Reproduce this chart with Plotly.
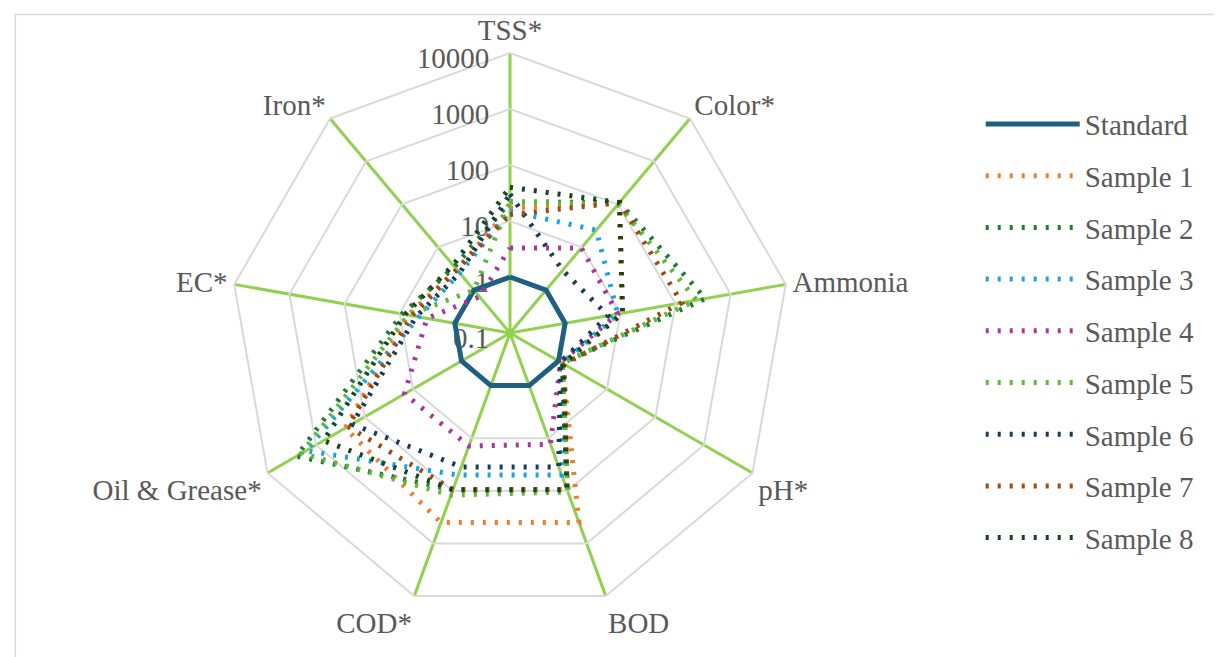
import plotly.graph_objects as go

categories = ["TSS*", "Color*", "Ammonia", "pH*", "BOD", "COD*", "Oil & Grease*", "EC*", "Iron*"]
series_names = ["Standard", "Sample 1", "Sample 2", "Sample 3", "Sample 4",
                "Sample 5", "Sample 6", "Sample 7", "Sample 8"]

standard = [1, 1, 1, 1, 1, 1, 1, 1, 1]
sample1 = [17, 110, 11, 1.2, 400, 400, 250, 7, 3.0]
sample2 = [22, 110, 350, 1.2, 95, 95, 2500, 9, 3.5]
sample3 = [15, 25, 9, 1.2, 50, 50, 1600, 4.5, 2.5]
sample4 = [3.3, 9.6, 9, 1.1, 13, 14, 15, 3.2, 0.7]
sample5 = [22, 100, 240, 1.2, 105, 120, 2000, 7, 1.0]
sample6 = [30, 2.9, 6, 1.1, 35, 35, 180, 5, 2.5]
sample7 = [13, 110, 130, 1.3, 95, 95, 220, 6, 3.0]
sample8 = [40, 110, 11, 1.25, 95, 95, 700, 8, 3.8]

tick_vals = [0.1, 1, 10, 100, 1000, 10000]
tick_text = ["0.1", "1", "10", "100", "1000", "10000"]

colors = ["#1F5F82", "#ED7D31", "#227A36", "#1BA3E0", "#A8369F",
          "#5DB83A", "#1B3A57", "#A0480F", "#16461B"]

all_series = [standard, sample1, sample2, sample3, sample4,
              sample5, sample6, sample7, sample8]

FONT = "Liberation Serif, Times New Roman, serif"
TXT = "#595959"
FS = 29

fig = go.Figure()
for i, (name, vals) in enumerate(zip(series_names, all_series)):
    r = list(vals) + [vals[0]]
    th = categories + [categories[0]]
    if i == 0:
        line = dict(color=colors[i], width=5)
    else:
        line = dict(color=colors[i], width=5, dash="3px,9px")
    fig.add_trace(go.Scatterpolar(r=r, theta=th, mode="lines", name=name,
                                  line=line, legendgroup=name))

cx, cy = 502, 332  # domain centre (px from left, px from bottom)
R = 280
fig.update_layout(
    width=1222, height=657,
    paper_bgcolor="white", plot_bgcolor="white",
    margin=dict(l=0, r=0, t=0, b=0),
    font=dict(family=FONT, size=FS, color=TXT),
    polar=dict(
        domain=dict(x=[(cx - R) / 1222, (cx + R) / 1222],
                    y=[(cy - R) / 657, (cy + R) / 657]),
        bgcolor="white",
        gridshape="linear",
        radialaxis=dict(type="log", range=[-1, 4], tickvals=tick_vals,
                        ticktext=tick_text, angle=90, side="counterclockwise",
                        showline=False, ticks="", gridcolor="#D9D9D9",
                        gridwidth=2, layer="below traces",
                        tickfont=dict(family=FONT, size=FS, color=TXT)),
        angularaxis=dict(categoryorder="array", categoryarray=categories,
                         direction="clockwise", rotation=90,
                         showline=True, linecolor="#D9D9D9", linewidth=2,
                         gridcolor="#92D050", gridwidth=2.5, ticks="",
                         layer="below traces",
                         tickfont=dict(family=FONT, size=FS, color=TXT)),
    ),
    legend=dict(x=0.796, y=0.862, xanchor="left", yanchor="top",
                font=dict(family=FONT, size=FS, color=TXT),
                itemwidth=94, tracegroupgap=11, bgcolor="rgba(0,0,0,0)"),
    shapes=[dict(type="rect", xref="paper", yref="paper", x0=0.006, x1=0.995,
                 y0=0.01, y1=0.99, line=dict(color="#D9D9D9", width=1.5))],
)

fig.write_html("out.html")
